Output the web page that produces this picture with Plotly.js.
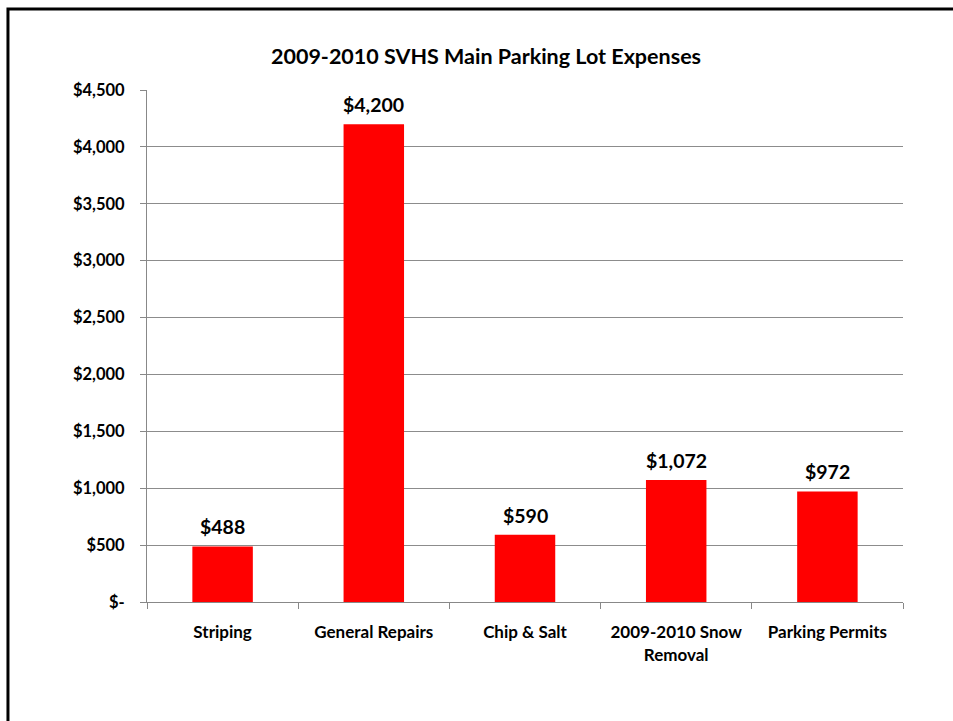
<!DOCTYPE html>
<html>
<head>
<meta charset="utf-8">
<script src="https://cdn.plot.ly/plotly-3.0.1.min.js"></script>
<style>html,body{margin:0;padding:0;background:#fff;}#chart{width:953px;height:721px;}</style>
</head>
<body>
<div id="chart"></div>
<script>
var categories = ["Striping", "General Repairs", "Chip & Salt", "2009-2010 Snow<br>Removal", "Parking Permits"];
var expenses = [488, 4200, 590, 1072, 972];
var yTickVals = [0, 500, 1000, 1500, 2000, 2500, 3000, 3500, 4000, 4500];
var yTickText = ["$-", "$500", "$1,000", "$1,500", "$2,000", "$2,500", "$3,000", "$3,500", "$4,000", "$4,500"];

var FONT = "Lato, 'Open Sans', sans-serif";

var trace = {
  type: "bar",
  x: categories,
  y: expenses,
  marker: {color: "#ff0000", line: {width: 0}},
  width: 0.4,
  hoverinfo: "skip"
};

var labels = categories.map(function (c, i) {
  return {
    x: c, y: expenses[i], xref: "x", yref: "y",
    text: "$" + expenses[i].toLocaleString("en-US"),
    showarrow: false, yanchor: "bottom", yshift: 6,
    font: {family: FONT, size: 19.5, color: "#000", weight: 700}
  };
});

var layout = {
  width: 953, height: 721,
  margin: {l: 147, r: 50, t: 90, b: 119},
  paper_bgcolor: "#fff", plot_bgcolor: "#fff",
  showlegend: false,
  bargap: 0.6,
  title: {
    text: "2009-2010 SVHS Main Parking Lot Expenses",
    font: {family: FONT, size: 21.5, color: "#000", weight: 700},
    x: 0.51, xanchor: "center", y: 0.921, yanchor: "middle"
  },
  xaxis: {
    type: "category",
    tickson: "boundaries",
    ticks: "outside", ticklen: 6, tickcolor: "#888", tickwidth: 1,
    showline: true, linecolor: "#888", linewidth: 1,
    showgrid: false,
    tickfont: {family: FONT, size: 17, color: "#000", weight: 700},
    ticklabelstandoff: 15,
    fixedrange: true
  },
  yaxis: {
    range: [0, 4500],
    tickvals: yTickVals, ticktext: yTickText,
    ticks: "outside", ticklen: 6, tickcolor: "#888", tickwidth: 1,
    showline: true, linecolor: "#888", linewidth: 1,
    showgrid: true, gridcolor: "#8c8c8c", gridwidth: 1,
    zeroline: false,
    tickfont: {family: FONT, size: 16.5, color: "#000", weight: 700},
    ticklabelstandoff: 12,
    fixedrange: true
  },
  annotations: labels,
  shapes: [{
    type: "rect", xref: "paper", yref: "paper",
    x0: -0.1839, x1: 1.08, y0: -0.26, y1: 1.158,
    line: {color: "#000", width: 3}, fillcolor: "rgba(0,0,0,0)", layer: "above"
  }]
};

Plotly.newPlot("chart", [trace], layout, {displayModeBar: false, staticPlot: true});
</script>
</body>
</html>
